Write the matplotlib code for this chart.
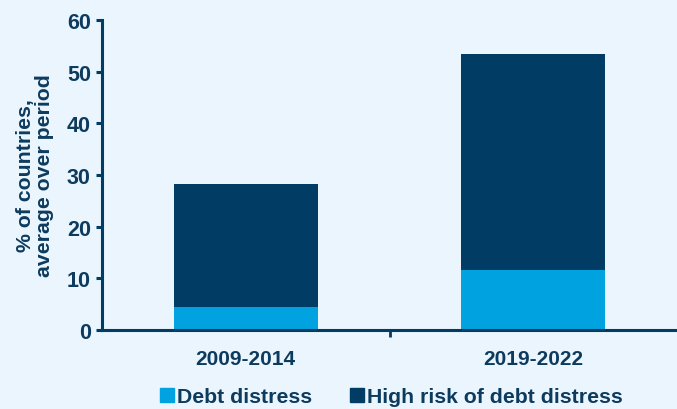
import matplotlib.pyplot as plt
from matplotlib.patches import Patch

# Data
periods = ['2009-2014', '2019-2022']
debt_distress = [4.5, 11.7]
high_risk = [23.8, 41.7]

bg = '#EAF5FD'
navy = '#003C64'
light = '#00A3E0'
txt = '#0D3B5E'

plt.rcParams['font.family'] = ['Liberation Sans', 'DejaVu Sans']
plt.rcParams['font.weight'] = 'bold'

fig = plt.figure(figsize=(6.77, 4.10), dpi=100, facecolor=bg)
ax = fig.add_axes([0.1507, 0.1927, 0.8493, 0.7561], facecolor=bg)

x = list(range(len(periods)))
ax.bar(x, debt_distress, width=0.5, color=light, label='Debt distress')
ax.bar(x, high_risk, width=0.5, bottom=debt_distress, color=navy,
       label='High risk of debt distress')

ax.set_xlim(-0.5, 1.5)
ax.set_ylim(0, 60)
ax.set_yticks(range(0, 61, 10))
ax.set_xticks(x)
ax.set_xticklabels(periods)
ax.set_xticks([0.5], minor=True)

for side in ['top', 'right']:
    ax.spines[side].set_visible(False)
for side in ['left', 'bottom']:
    ax.spines[side].set_color(navy)
    ax.spines[side].set_linewidth(2.2)

ax.tick_params(axis='y', which='major', length=4, width=2.2, color=navy,
               labelsize=15.5, labelcolor=txt, pad=4)
ax.tick_params(axis='x', which='major', length=0, labelsize=15,
               labelcolor=txt, pad=14)
ax.tick_params(axis='x', which='minor', length=5, width=2, color=navy)

ax.set_ylabel('% of countries,\naverage over period', fontsize=15.3,
              color=txt, fontweight='bold', labelpad=9, linespacing=1.05)

handles = [Patch(color=light), Patch(color=navy)]
fig.legend(handles, ['Debt distress', 'High risk of debt distress'],
           loc='center', bbox_to_anchor=(0.578, 0.03), ncol=2, frameon=False,
           fontsize=15.3, labelcolor=txt, handlelength=0.65, handleheight=0.65,
           handletextpad=0.15, columnspacing=1.8, borderaxespad=0)

fig.savefig('out.png', dpi=100, facecolor=bg)
